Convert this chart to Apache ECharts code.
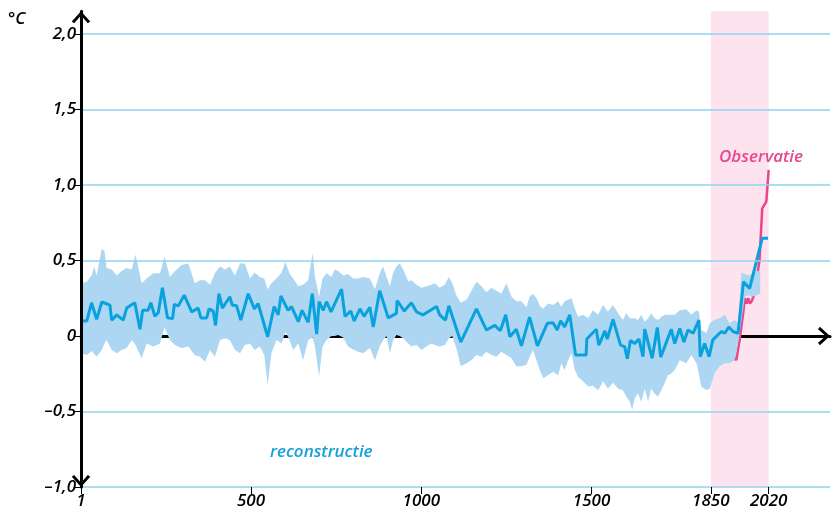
<!DOCTYPE html>
<html><head><meta charset="utf-8">
<script src="https://cdn.jsdelivr.net/npm/echarts@6/dist/echarts.min.js"></script>
<style>html,body{margin:0;padding:0;background:#fff}#c{width:833px;height:518px}</style>
</head><body><div id="c"></div>
<script>
// Reconstruction (blue line)
const lineYears = [3,18,32,47,62,86,91,106,125,135,159,174,182,198,206,218,228,240,255,270,275,287,304,326,345,353,370,377,389,396,406,416,438,445,458,470,492,510,521,549,568,580,588,609,619,639,650,668,680,693,700,712,722,735,766,776,793,803,820,832,849,859,878,903,927,929,950,971,986,1005,1045,1054,1071,1081,1116,1162,1191,1216,1232,1248,1260,1279,1294,1318,1323,1341,1370,1387,1399,1409,1421,1436,1453,1484,1486,1514,1521,1531,1539,1546,1563,1585,1597,1605,1614,1627,1639,1651,1656,1678,1693,1703,1734,1744,1759,1771,1783,1798,1815,1819,1832,1845,1856,1881,1891,1903,1915,1930,1946,1964,1969,2001,2018];
const lineValues = [0.10,0.10,0.22,0.11,0.225,0.205,0.105,0.14,0.105,0.185,0.22,0.045,0.17,0.17,0.22,0.13,0.155,0.32,0.12,0.115,0.21,0.20,0.27,0.16,0.185,0.12,0.12,0.18,0.165,0.07,0.28,0.185,0.26,0.205,0.20,0.105,0.28,0.18,0.215,-0.005,0.195,0.14,0.265,0.17,0.195,0.095,0.17,0.09,0.28,0.013,0.227,0.17,0.227,0.16,0.31,0.13,0.165,0.10,0.18,0.13,0.19,0.06,0.30,0.12,0.15,0.235,0.165,0.22,0.16,0.14,0.195,0.14,0.105,0.20,-0.04,0.18,0.04,0.07,0.035,0.14,-0.005,0.045,-0.065,0.125,0.13,-0.065,0.084,0.088,0.04,0.10,0.06,0.14,-0.126,-0.126,-0.02,0.045,-0.06,-0.01,0.035,-0.02,0.11,-0.06,-0.07,-0.15,-0.03,-0.05,-0.02,-0.137,0.046,-0.148,0.057,-0.14,0.045,-0.05,0.05,-0.04,0.04,0.018,0.106,-0.137,-0.05,-0.137,-0.026,0.03,0.018,0.06,0.03,0.018,0.36,0.315,0.305,0.647,0.647];

// Uncertainty band
const bandYears = [1,18,32,40,47,62,70,76,91,106,120,135,150,161,179,194,213,233,246,262,277,296,316,335,350,365,380,394,409,424,438,453,468,482,497,511,526,539,549,560,575,590,601,614,624,639,653,668,681,688,700,710,722,736,746,756,771,785,800,815,829,849,864,878,888,898,908,917,927,937,947,962,971,986,1001,1015,1030,1040,1054,1069,1081,1091,1103,1116,1133,1147,1162,1177,1191,1206,1221,1235,1250,1265,1279,1294,1309,1318,1328,1338,1348,1358,1372,1387,1402,1411,1421,1431,1441,1451,1460,1475,1490,1504,1519,1534,1548,1563,1578,1592,1602,1612,1619,1627,1636,1646,1656,1666,1675,1685,1695,1705,1715,1724,1734,1744,1759,1778,1793,1808,1815,1822,1837,1847,1861,1876,1891,1905,1920,1930,1940,1950,1960,1970,1985,1995];
const bandHigh = [0.35,0.36,0.40,0.46,0.40,0.58,0.56,0.45,0.44,0.40,0.43,0.45,0.44,0.54,0.35,0.38,0.415,0.415,0.525,0.39,0.43,0.47,0.48,0.35,0.37,0.37,0.34,0.415,0.46,0.44,0.46,0.40,0.48,0.48,0.38,0.42,0.39,0.38,0.31,0.35,0.38,0.42,0.49,0.41,0.38,0.33,0.34,0.37,0.55,0.39,0.26,0.38,0.415,0.39,0.44,0.43,0.40,0.41,0.38,0.38,0.39,0.38,0.31,0.415,0.46,0.39,0.33,0.415,0.46,0.48,0.44,0.36,0.37,0.34,0.32,0.33,0.34,0.35,0.32,0.34,0.39,0.35,0.27,0.22,0.24,0.30,0.36,0.33,0.29,0.32,0.30,0.28,0.35,0.26,0.23,0.23,0.19,0.26,0.28,0.25,0.20,0.18,0.216,0.205,0.23,0.194,0.23,0.24,0.25,0.18,0.128,0.14,0.117,0.17,0.14,0.205,0.16,0.205,0.15,0.106,0.15,0.117,0.117,0.117,0.106,0.14,0.095,0.117,0.15,0.12,0.106,0.128,0.14,0.14,0.14,0.14,0.17,0.177,0.14,0.17,0.16,0.04,0.02,0.084,0.106,0.117,0.14,0.084,0.106,0.084,0.42,0.41,0.40,0.41,0.43,0.43];
const bandLow = [-0.115,-0.126,-0.10,-0.12,-0.137,-0.093,-0.05,-0.026,-0.093,-0.115,-0.093,-0.08,-0.026,-0.06,-0.148,-0.05,-0.07,-0.05,0.06,-0.026,-0.06,-0.08,-0.07,-0.126,-0.137,-0.17,-0.093,-0.137,-0.026,-0.015,-0.026,-0.093,-0.115,-0.06,-0.05,-0.093,-0.07,-0.126,-0.325,-0.115,-0.026,-0.05,0.03,-0.03,-0.093,-0.05,-0.16,-0.026,-0.01,-0.07,-0.27,-0.07,-0.026,0.0,0.0,0.007,-0.01,-0.07,-0.09,-0.104,-0.115,-0.08,-0.16,-0.07,-0.026,0.0,-0.115,-0.03,0.007,0.0,-0.015,-0.05,-0.07,-0.06,-0.093,-0.07,-0.05,-0.06,-0.07,-0.06,-0.015,0.0,-0.08,-0.2,-0.18,-0.16,-0.126,-0.137,-0.104,-0.126,-0.137,-0.104,-0.126,-0.148,-0.2,-0.2,-0.19,-0.137,-0.093,-0.16,-0.225,-0.28,-0.26,-0.236,-0.26,-0.18,-0.225,-0.16,-0.115,-0.225,-0.27,-0.30,-0.335,-0.33,-0.36,-0.30,-0.35,-0.31,-0.35,-0.36,-0.40,-0.435,-0.49,-0.41,-0.38,-0.435,-0.35,-0.435,-0.35,-0.38,-0.40,-0.36,-0.31,-0.26,-0.25,-0.225,-0.16,-0.18,-0.126,-0.18,-0.25,-0.335,-0.357,-0.347,-0.247,-0.2,-0.18,-0.18,-0.16,-0.05,0.1,0.26,0.27,0.26,0.27,0.28];

// Observations (pink line)
const obsYears = [1850,1870,1890,1910,1925,1935,1945,1950,1955,1960,1965,1970,1975,1978,1993,2001,2005,2013,2020];
const obsValues = [-0.05,-0.05,-0.1,-0.12,-0.16,-0.02,0.15,0.25,0.215,0.25,0.215,0.23,0.26,0.28,0.50,0.845,0.856,0.89,1.10];

const yTicks = [-1, -0.5, 0, 0.5, 1, 1.5, 2];
const xTicks = [1, 500, 1000, 1500, 1850, 2020];
const periodStart = 1850, periodEnd = 2020;
const yMin = -1, yMax = 2.15, xMin = 1, xMax = 2200;

const FONT = "'Open Sans', 'DejaVu Sans', sans-serif";
const chevron = 'path://M0,11 L10,0 L20,11 L17.4,13 L10,4.6 L2.6,13 Z';
const GRID = '#8fd3f1';
const splitColors = yTicks.map(v => v === 0 ? 'rgba(0,0,0,0)' : GRID);

const chart = echarts.init(document.getElementById('c'), null, {renderer: 'canvas'});
const option = {
  animation: false,
  grid: {left: 81, right: 3, top: 11.35, bottom: 31, containLabel: false},
  xAxis: [
    {type: 'value', min: xMin, max: xMax, position: 'bottom', z: 5,
     axisLine: {show: false, onZero: false}, splitLine: {show: false},
     axisTick: {show: true, customValues: xTicks, length: 7, lineStyle: {color: '#000', width: 1}},
     axisLabel: {customValues: xTicks, margin: 6, color: '#000', fontSize: 17, fontStyle: 'italic', fontWeight: 600, fontFamily: FONT,
       formatter: v => String(Math.round(v))}},
    {type: 'value', min: xMin, max: xMax, position: 'bottom', z: 1,
     axisLine: {show: true, onZero: true, lineStyle: {color: '#000', width: 3},
       symbol: ['none', chevron], symbolSize: [20, 12], symbolOffset: [0, -6]},
     axisTick: {show: false}, axisLabel: {show: false}, splitLine: {show: false}}
  ],
  yAxis: {type: 'value', min: yMin, max: yMax, z: 5,
    axisLine: {show: true, onZero: false, lineStyle: {color: '#000', width: 3},
      symbol: [chevron, chevron], symbolSize: [20, 12], symbolOffset: [6, -6]},
    axisTick: {show: true, customValues: yTicks, length: 7, lineStyle: {color: '#000', width: 1}},
    axisLabel: {customValues: yTicks, margin: 5, color: '#000', fontSize: 17, fontStyle: 'italic', fontWeight: 600, fontFamily: FONT,
      formatter: v => v === 0 ? '0' : v.toFixed(1).replace('.', ',').replace('-', '–')},
    splitLine: {show: true, lineStyle: {color: splitColors, width: 1.5}}
  },
  graphic: [
    {type: 'text', x: 8, y: 19, z: 10, style: {text: '°C', fill: '#000', font: "italic 600 17px 'Open Sans'", textVerticalAlign: 'middle'}},
    {type: 'text', x: 719, y: 157, z: 10, style: {text: 'Observatie', fill: '#e8468e', font: "italic 600 17px 'Open Sans'", textVerticalAlign: 'middle'}},
    {type: 'text', x: 270, y: 452, z: 10, style: {text: 'reconstructie', fill: '#14a0dc', font: "italic 600 17px 'Open Sans'", textVerticalAlign: 'middle'}}
  ],
  series: [
    {type: 'custom', z: 0, silent: true, data: [[periodStart, periodEnd]], encode: {x: [0, 1]},
     renderItem: (params, api) => {
       const p1 = api.coord([periodStart, yMax]);
       const p2 = api.coord([periodEnd, yMin]);
       return {type: 'rect', shape: {x: p1[0], y: p1[1], width: p2[0] - p1[0], height: p2[1] - p1[1]}, style: {fill: '#fde3ee'}};
     }},
    {type: 'line', z: 2, data: obsYears.map((y, i) => [y, obsValues[i]]), showSymbol: false,
     lineStyle: {color: '#e8468e', width: 2.5}},
    {type: 'custom', z: 3, silent: true, data: [[bandYears[0], bandLow[0]]],
     renderItem: (params, api) => {
       const pts = [];
       for (let i = 0; i < bandYears.length; i++) pts.push(api.coord([bandYears[i], bandHigh[i]]));
       for (let i = bandYears.length - 1; i >= 0; i--) pts.push(api.coord([bandYears[i], bandLow[i]]));
       return {type: 'polygon', shape: {points: pts}, style: {fill: '#acd6f1'}};
     }},
    {type: 'line', z: 4, data: lineYears.map((y, i) => [y, lineValues[i]]), showSymbol: false,
     lineStyle: {color: '#0aa2de', width: 3}}
  ]
};
chart.setOption(option);
</script></body></html>
